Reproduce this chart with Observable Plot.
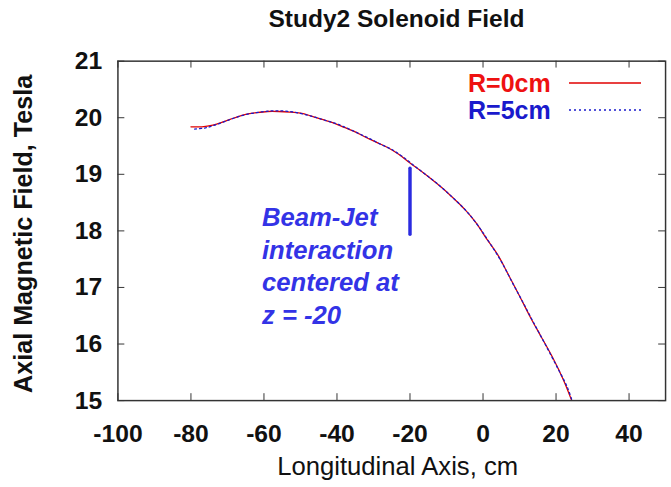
<!DOCTYPE html>
<html><head><meta charset="utf-8">
<script src="https://cdn.jsdelivr.net/npm/d3@7"></script>
<script src="https://cdn.jsdelivr.net/npm/@observablehq/plot@0.6"></script>
<style>
html,body{margin:0;padding:0;background:#fff;overflow:hidden;width:671px;height:487px;}
#wrap{position:relative;width:671px;height:487px;overflow:hidden;font-family:"Liberation Sans",Arial,Helvetica,sans-serif;}
#title{position:absolute;left:119px;width:555px;top:0;height:37px;line-height:37px;text-align:center;font-size:24.5px;font-weight:bold;color:#111;}
#chart{position:absolute;left:0;top:36px;}
#legend{position:absolute;left:0;top:0;pointer-events:none;}
</style></head><body>
<div id="wrap">
  <div id="title">Study2 Solenoid Field</div>
  <div id="chart"></div>
  <svg id="legend" width="671" height="487" font-family="Liberation Sans, Arial, sans-serif" font-weight="bold" font-size="25">
    <text x="468" y="92" fill="#ee1111">R=0cm</text>
    <line x1="569" x2="641" y1="83" y2="83" stroke="#e00000" stroke-width="1.3"></line>
    <text x="468" y="119" fill="#1a1acc">R=5cm</text>
    <line x1="569" x2="641" y1="110" y2="110" stroke="#1a1acc" stroke-width="1.3" stroke-dasharray="2,3"></line>
  </svg>
</div>
<script>
// ---- data ----
const zR0 = [-80,-77,-74,-71,-68,-65,-62,-59,-56,-53,-50,-47,-44,-41,-38,-35,-32,-29,-26,-23,-20,-17,-14,-11,-8,-5,-2,1,4,7,10,13,16,19,22,24.3];
const bR0 = [19.84,19.84,19.87,19.93,20.00,20.06,20.09,20.11,20.11,20.10,20.08,20.03,19.97,19.91,19.83,19.75,19.65,19.56,19.47,19.35,19.20,19.06,18.91,18.75,18.57,18.38,18.15,17.86,17.58,17.22,16.85,16.47,16.12,15.77,15.37,15.00];
const zR5 = [-79,-76,-73,-70,-67,-64,-61,-58,-55,-52,-49,-46,-43,-40,-37,-34,-31,-28,-25,-22,-19,-16,-13,-10,-7,-4,-1,2,5,8,11,14,17,20,23,24.4];
const bR5 = [19.80,19.82,19.88,19.95,20.02,20.07,20.10,20.12,20.12,20.10,20.06,20.01,19.95,19.89,19.81,19.72,19.63,19.53,19.44,19.31,19.16,19.01,18.86,18.69,18.51,18.31,18.06,17.77,17.46,17.09,16.73,16.36,16.00,15.63,15.25,15.00];
const seriesNames = ["R=0cm", "R=5cm"];
const xTicks = [-100,-80,-60,-40,-20,0,20,40];
const yTicks = [15,16,17,18,19,20,21];
const noteZ = -20;
const noteSpan = [19.10, 17.93];
const noteText = "Beam-Jet\ninteraction\ncentered at\nz = -20";
const xLabel = "Longitudinal Axis, cm";
const yLabel = "Axial Magnetic Field, Tesla";

const r0 = zR0.map((z,i)=>({z, b:bR0[i]}));
const r5 = zR5.map((z,i)=>({z, b:bR5[i]}));

const W = 680, H = 451, mt = 25, mb = 82, ml = 119, mr = 6;
const ph = H - mt - mb, pw = W - ml - mr, tk = 7;
const font = "Liberation Sans, Arial, sans-serif";
const fmt = d => String(d);

const chart = Plot.plot({
  width: W, height: H,
  marginTop: mt, marginBottom: mb, marginLeft: ml, marginRight: mr,
  style: {fontFamily: font, background: "#fff", overflow: "visible"},
  x: {domain: [-100, 50]},
  y: {domain: [15, 21]},
  marks: [
    Plot.axisX({ticks: xTicks, tickFormat: fmt, tickSize: 0, tickPadding: 24, fontSize: 25, fontWeight: "bold", fill: "#111", label: null}),
    Plot.axisY({ticks: yTicks, tickFormat: fmt, tickSize: 0, tickPadding: 16, fontSize: 25, fontWeight: "bold", fill: "#111", label: null}),
    Plot.tickX(xTicks, {x: d=>d, insetTop: ph - tk, stroke: "#333"}),
    Plot.tickX(xTicks, {x: d=>d, insetBottom: ph - tk, stroke: "#333"}),
    Plot.tickY(yTicks, {y: d=>d, insetRight: pw - tk, stroke: "#333"}),
    Plot.tickY(yTicks, {y: d=>d, insetLeft: pw - tk, stroke: "#333"}),
    Plot.line(r0, {x: "z", y: "b", stroke: "#e00000", strokeWidth: 1.3, curve: "catmull-rom", clip: true}),
    Plot.line(r5, {x: "z", y: "b", stroke: "#1a1acc", strokeWidth: 1.3, strokeDasharray: "2,3", curve: "catmull-rom", clip: true}),
    Plot.ruleX([noteZ], {x: d=>d, y1: noteSpan[0], y2: noteSpan[1], stroke: "#2b2be0", strokeWidth: 3.5, strokeLinecap: "round"}),
    Plot.text([noteText], {x: noteZ, y: noteSpan[0], text: d=>d, dx: -150, dy: 35, textAnchor: "start", lineAnchor: "top", lineHeight: 1.27, fontSize: 26, fontWeight: "bold", fontStyle: "italic", fill: "#3333e6"}),
    Plot.text([xLabel], {frameAnchor: "bottom", text: d=>d, dx: 6, dy: 67, lineAnchor: "middle", fontSize: 26, fill: "#111"}),
    Plot.text([yLabel], {frameAnchor: "left", text: d=>d, dx: -95, dy: 3, rotate: -90, textAnchor: "middle", lineAnchor: "middle", fontSize: 25.5, fontWeight: "bold", fill: "#111"}),
    Plot.frame({stroke: "#333", strokeWidth: 1.5})
  ]
});
document.getElementById("chart").appendChild(chart);
</script>
</body></html>
